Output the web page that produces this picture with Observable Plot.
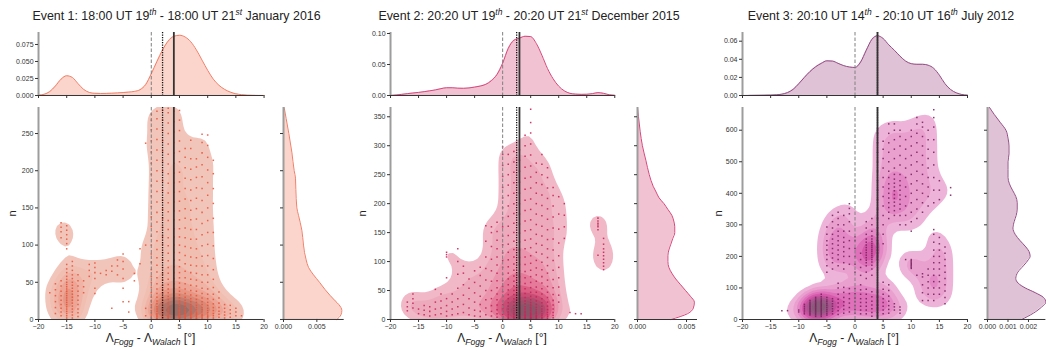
<!DOCTYPE html>
<html><head><meta charset="utf-8">
<script src="https://cdn.jsdelivr.net/npm/d3@7"></script>
<script src="https://cdn.jsdelivr.net/npm/@observablehq/plot@0.6"></script>
<style>
body{margin:0;background:#fff;font-family:"Liberation Sans",Arial,sans-serif;}
#fig{position:relative;width:1046px;height:351px;overflow:hidden;background:#fff;}
.pl{position:absolute;}
.pl svg{display:block;max-width:none !important;}
.title{position:absolute;font-size:12.4px;color:#222;white-space:nowrap;transform:translate(-50%,-50%);}
.title sup{font-size:8.5px;font-style:italic;vertical-align:5px;line-height:0;}
.xl{position:absolute;font-size:12px;color:#222;white-space:nowrap;transform:translate(-50%,-50%);}
.xl sub{font-size:8.6px;font-style:italic;vertical-align:-3px;line-height:0;}
</style></head><body><div id="fig"></div>
<script>
// ---------- shared tick values ----------
const xTicks = [-20,-15,-10,-5,0,5,10,15,20];
const gridX = [-20,-19,-18,-17,-16,-15,-14,-13,-12,-11,-10,-9,-8,-7,-6,-5,-4,-3,-2,-1,0,1,2,3,4,5,6,7,8,9,10,11,12,13,14,15,16,17,18,19,20];

// ---------- Event 1 : [Λ difference, list of n] ----------
const e1Points = [
 [-18,[36]],[-17,[8,16,24,32,40,48]],[-16,[5,10,15,20,26,32,38,45,52,110,118,124,130]],
 [-15,[2,5,8,11,14,17,20,23,26,29,32,35,38,41,44,47,50,54,58,63,68,74,95,102,108,114,120,126]],
 [-14,[2,6,10,14,18,22,26,30,34,38,42,46,50,55,60,66,72,78]],[-13,[4,9,14,20,26,32,38,45,52,60]],
 [-12,[36,44,52]],[-11,[58,66,74]],[-10,[35,42,55,63,70,76]],[-9,[62]],[-8,[60,66]],
 [-7,[15,65,72]],[-6,[60,72,80]],[-5,[24,42,55,68,78,88]],[-4,[10,24]],[-3,[52,62]],
 [-2,[75,95]],[-1,[5,15,100,237]],
 [0,[1,3,6,9,12,16,20,25,30,36,43,50,58,67,77,88,100,112,125,138,152,166,180,195,210,225,240,255,268,276]],
 [1,[1,2,4,6,8,11,14,17,21,25,30,35,41,48,56,64,73,83,94,106,118,131,144,158,172,186,200,214,228,242,256,270,280]],
 [2,[1,2,3,5,7,9,11,13,16,19,22,26,30,35,40,46,53,61,70,80,90,101,112,124,136,148,160,173,186,199,212,226,240,254,268,281]],
 [3,[1,2,3,4,6,8,10,12,14,17,20,23,27,31,36,41,47,54,62,70,79,89,99,110,121,133,145,157,170,183,196,209,222,236,250,264,278,284]],
 [4,[1,2,3,4,5,7,9,11,13,15,18,21,24,28,32,37,42,48,55,63,71,80,90,100,111,122,134,146,158,171,184,197,210,224,238,252,266,280]],
 [5,[1,2,3,4,5,6,8,10,12,14,16,19,22,25,29,33,38,43,49,56,63,71,80,90,100,111,122,134,146,159,172,185,198,212,226,240,254,268,281]],
 [6,[1,2,3,5,7,9,11,13,16,19,22,26,30,35,41,48,56,65,75,86,98,110,123,136,149,162,176,190,204,218,230]],
 [7,[1,2,3,5,7,9,11,14,17,20,24,28,33,39,46,54,63,73,84,96,108,121,134,147,160,174,188,202,216,230,241]],
 [8,[1,2,4,6,8,10,13,16,19,23,27,32,38,45,53,62,72,83,95,108,121,135,149,163,177,191,205,216]],
 [9,[1,3,5,7,10,13,16,20,24,29,35,42,50,60,72,85,99,114,129,144,160,176,192,208,224,238,249]],
 [10,[2,4,6,9,12,15,19,23,28,34,41,50,60,72,86,101,117,133,150,167,184,201,218,234,248]],
 [11,[2,5,8,12,16,21,27,34,43,54,67,82,99,117,136,156,176,196,214]],
 [12,[3,7,11,16,22,29,37]],[13,[2,6,10,15,20]],[14,[3,8,13,19]],[15,[5,10,15]],[16,[5]]
];
const e1Top = [0.0005,0.0018,0.0058,0.0140,0.0240,0.0290,0.0265,0.0175,0.0090,0.0045,0.0032,0.0030,0.0031,0.0034,0.0038,0.0043,0.0050,0.0060,0.0085,0.0160,0.0320,0.0500,0.0670,0.0800,0.0870,0.0885,0.0860,0.0790,0.0670,0.0520,0.0370,0.0240,0.0150,0.0090,0.0050,0.0025,0.0012,0.0005,0.0002,0.0001,0.0000];
const e1RightN = [0,6,12,20,25,40,50,60,70,80,90,100,120,140,150,175,190,200,225,250,270,285];
const e1RightD = [0.0080,0.0086,0.00875,0.0083,0.00775,0.00625,0.0054,0.0045,0.00375,0.0034,0.00315,0.0030,0.00275,0.00225,0.0020,0.00185,0.0018,0.0016,0.00125,0.0008,0.0004,0.0001];
const e1YTicks = [0,50,100,150,200,250];
const e1TopTicks = [0,0.025,0.05,0.075];
const e1RightTicks = [0,0.005];

// ---------- Event 2 ----------
const e2Points = [
 [-17,[15,22,30]],[-16,[20,28,36,44]],[-15,[10,18]],[-14,[8,16,24]],[-13,[6,14,22]],
 [-12,[8,18,30,52]],[-11,[10,20,32,44]],[-10,[6,14,24,36,72,108,112,116]],[-9,[8,18,30,44]],
 [-8,[10,22,36,54,78,100,122]],[-7,[12,26,42,60,80,92]],[-6,[8,20,36,54,70]],[-5,[6,16,30,46,64,84]],
 [-4,[5,14,26,40,58,76,90]],[-3,[8,20,34,50,68,88,108,135,162]],[-2,[6,14,24,36,50,66,84,104,126,150,160]],
 [-1,[4,10,17,25,34,44,55,67,80,94,108,122,137,152,168]],
 [0,[2,5,9,14,19,25,32,40,48,57,67,78,90,102,115,129,144,160,176,193,210,228,247,266,285,298]],
 [1,[1,3,6,9,13,18,23,29,36,43,51,60,70,80,91,103,116,130,145,161,178,196,214,232,250,268,285]],
 [2,[1,3,5,8,11,15,19,24,30,36,43,50,58,66,75,85,96,108,121,135,150,166,183,200,218,236,254,272,290]],
 [3,[1,2,4,6,9,12,16,20,25,30,36,42,49,57,65,74,84,95,107,120,134,149,165,182,200,218,237,256,275,293]],
 [4,[1,2,4,6,8,11,14,18,22,27,32,38,45,53,62,72,83,95,108,122,137,153,170,188,206,225,244,263,282,300,318]],
 [5,[1,2,3,4,6,8,10,12,15,18,21,25,29,34,40,47,55,64,74,85,97,110,124,139,155,172,190,208,227,246,265,284,303,322,340,363]],
 [6,[1,3,5,7,10,13,17,21,26,32,39,47,56,66,77,89,102,116,131,147,164,182,200,218,236,254,270]],
 [7,[2,4,7,10,14,18,23,29,36,44,53,63,74,86,99,113,128,144,161,179,197,215,233,250,268,285]],
 [8,[2,5,8,12,17,23,30,38,47,57,68,80,93,107,122,138,155,173,191,209,227,245,262]],
 [9,[3,7,12,18,25,33,43,55,69,85,102,120,139,158,177,196,214,228]],
 [10,[30,42,56,72,90,110,132,156,182,212]],[11,[140,160,180,200]],
 [12,[12]],[13,[10]],[14,[10]],[17,[111,155,160,163,166,170,175]],[18,[86,92,98,104,110,116,122,130,140]]
];
const e2Top = [0.0002,0.0008,0.0018,0.0030,0.0040,0.0050,0.0062,0.0075,0.0090,0.0110,0.0125,0.0125,0.0118,0.0116,0.0122,0.0135,0.0152,0.0180,0.0240,0.0340,0.0520,0.0760,0.0890,0.0925,0.0955,0.0950,0.0840,0.0650,0.0435,0.0270,0.0150,0.0075,0.0035,0.0022,0.0018,0.0020,0.0030,0.0046,0.0035,0.0012,0.0003];
const e2RightN = [0,10,20,30,40,50,60,70,80,90,100,110,120,130,140,150,160,170,180,190,200,210,220,230,250,275,300,325,350,366];
const e2RightD = [0.0034,0.0051,0.0057,0.0058,0.0054,0.0049,0.0044,0.0039,0.0035,0.0032,0.0031,0.0031,0.0032,0.0034,0.0036,0.0038,0.0038,0.0037,0.0035,0.0031,0.0027,0.0022,0.0019,0.0016,0.0012,0.00085,0.0005,0.00027,0.0001,0.0];
const e2YTicks = [0,50,100,150,200,250,300,350];
const e2TopTicks = [0,0.05,0.10];
const e2RightTicks = [0,0.005];

// ---------- Event 3 ----------
const e3Points = [
 [-13,[28]],[-12,[28]],[-10,[24,30]],[-9,[18,24,30,36,42,48]],
 [-8,[14,18,22,26,30,34,38,42,46,50,55,60]],
 [-7,[10,15,20,24,28,32,36,40,44,48,52,56,60,65,70]],
 [-6,[10,15,20,24,28,32,36,40,44,48,52,56,60,65,72,80]],
 [-5,[14,20,26,32,38,44,50,56,62,70,150,170,190,205,220,235,250,270,293]],
 [-4,[18,26,34,42,50,58,66,160,180,195,210,225,240,255,270,290,310,330]],
 [-3,[16,28,40,52,64,80,100,115,170,190,205,220,235,250,265,280,300,320,340]],
 [-2,[20,32,44,56,70,86,102,160,180,200,215,230,245,260,280,300,330]],
 [-1,[24,38,52,66,82,98,175,200,225,250,280,310,335,352,367]],
 [0,[20,32,44,56,68,82,98,150,175,200,225,250,262]],
 [1,[18,30,42,54,66,80,94,110,140,165,190,210]],
 [2,[18,30,42,54,66,80,96,130,150,170,180,188,196,204,212,220,228,236,245,255,270,290,310]],
 [3,[10,22,34,46,58,72,88,140,160,172,182,190,197,204,210,216,222,228,234,240,247,255,265,280,300,320]],
 [4,[10,22,34,46,58,72,88,190,200,210,220,230,240,250,270,290,320,350,380,410,440,470,500,530,560,590,605]],
 [5,[18,30,42,54,66,80,96,118,240,270,300,330,360,390,420,450,480,510,540,565]],
 [6,[20,32,44,58,74,92,110,320,340,355,370,385,400,415,430,450,470,500,530,560,590,620]],
 [7,[30,40,50,330,345,360,372,384,396,408,420,432,445,460,480,510,540,570,600,620]],
 [8,[20,30,40,300,330,350,365,380,395,410,425,440,460,490,520,550,580,600]],
 [9,[190,300,330,360,390,420,450,480,510,540,570]],
 [10,[162,166,170,174,178,182,186,190,280,310,340,370,400,430,460,490,520,550,580,600]],
 [11,[140,320,350,380,410,440,470,500,530,560,590,620,640]],
 [12,[60,85,110,135,145,340,370,400,430,460,490,520,550,580,610,625]],
 [13,[60,80,100,120,140,160,360,390,420,450,480,510,540,570,600]],
 [14,[60,80,100,120,140,160,180,200,220,245,270,285,370,410,450,490,530,570,610,640,665]],
 [15,[80,100,120,140,160,180,200,220,240,260,380,410,440]],
 [16,[50,70,90,110,130,150,170,190,210,230]],[17,[394,418]]
];
const e3Top = [0.0000,0.0001,0.0002,0.0003,0.0004,0.0005,0.0008,0.0015,0.0032,0.0068,0.0130,0.0200,0.0265,0.0317,0.0355,0.0383,0.0380,0.0355,0.0330,0.0315,0.0310,0.0370,0.0500,0.0620,0.0660,0.0630,0.0560,0.0500,0.0435,0.0380,0.0352,0.0345,0.0345,0.0335,0.0300,0.0225,0.0130,0.0066,0.0030,0.0011,0.0004];
const e3RightN = [0,20,40,55,70,85,100,115,130,150,170,190,200,215,230,250,270,290,310,330,350,370,390,410,430,450,475,500,525,550,575,600,625,650,672];
const e3RightD = [0.00167,0.00224,0.00265,0.00285,0.00273,0.00233,0.00184,0.0015,0.00138,0.00148,0.00175,0.0020,0.00208,0.00203,0.00187,0.00159,0.00135,0.00124,0.0013,0.0014,0.00145,0.00145,0.00138,0.00122,0.00107,0.0010,0.0010,0.0010,0.00105,0.00105,0.0010,0.0009,0.00062,0.00033,0.0001];
const e3YTicks = [0,100,200,300,400,500,600];
const e3TopTicks = [0,0.02,0.04,0.06];
const e3RightTicks = [0,0.001,0.002];

// ---------- layout ----------
const FT = 107.3, FB = 319.3, TT = 32.3, TB = 95.3;
const fig = document.getElementById("fig");
function put(el, left, top){ const d=document.createElement("div"); d.className="pl"; d.style.left=left+"px"; d.style.top=top+"px"; d.appendChild(el); fig.appendChild(d); }
function flat(cols){ const out=[]; for (const [x, ns] of cols) for (const n of ns) out.push({x, n}); return out; }
const baseStyle = {fontFamily:'"Liberation Sans", Arial, sans-serif', fontSize:"7px", color:"#333", background:"transparent", overflow:"visible", maxWidth:"none"};
const SPINE = "#9d9d9d";

function refRules(p){
  return [
    Plot.ruleX([0],{stroke:"#808080",strokeWidth:1,strokeDasharray:"3.5,2"}),
    Plot.ruleX([p.dotted],{stroke:"#111",strokeWidth:1.3,strokeDasharray:"1.2,1.3"}),
    Plot.ruleX([p.solid],{stroke:"#333",strokeWidth:1.8})
  ];
}

function mainPlot(p){
  const ml=40, mr=4, mt=4, mb=24;
  const fw=p.x1-p.x0, fh=FB-FT;
  const pts=flat(p.points);
  const svg=Plot.plot({
    width: fw+ml+mr, height: fh+mt+mb, marginLeft:ml, marginRight:mr, marginTop:mt, marginBottom:mb,
    style: baseStyle,
    x:{domain:[-20,20]}, y:{domain:[0,p.ymax]},
    color:{type:"linear", interpolate: d3.interpolateRgbBasis(p.kde)},
    marks:[
      Plot.density(pts,{x:"x",y:"n",bandwidth:p.bw,thresholds:p.th,fill:"density",clip:true}),
      Plot.dot(pts,{x:"x",y:"n",symbol:"square",r:0.85,fill:p.pt,fillOpacity:0.9,stroke:"none"}),
      ...refRules(p),
      Plot.ruleX([-20],{stroke:SPINE,strokeWidth:2}),
      Plot.ruleY([0],{stroke:"#333",strokeWidth:1}),
      Plot.axisX({ticks:xTicks,tickSize:3,tickPadding:2,label:null}),
      Plot.axisY({ticks:p.yTicks,tickSize:3,tickPadding:2,label:null}),
      Plot.text(["n"],{frameAnchor:"left",dx:-p.nOff,rotate:-90,textAnchor:"middle",fontSize:11,fill:"#222"})
    ]
  });
  put(svg, p.x0-ml, FT-mt);
}

function topPlot(p){
  const ml=40, mr=4, mt=2, mb=6;
  const fw=p.x1-p.x0, fh=TB-TT;
  const svg=Plot.plot({
    width: fw+ml+mr, height: fh+mt+mb, marginLeft:ml, marginRight:mr, marginTop:mt, marginBottom:mb,
    style: baseStyle,
    x:{domain:[-20,20]}, y:{domain:[0,p.tymax]},
    marks:[
      Plot.areaY(gridX,{x:gridX,y:p.top,fill:p.mfill,curve:"monotone-x"}),
      Plot.lineY(gridX,{x:gridX,y:p.top,stroke:p.mline,strokeWidth:1,curve:"monotone-x"}),
      ...refRules(p),
      Plot.ruleX([-20],{stroke:SPINE,strokeWidth:2}),
      Plot.ruleY([0],{stroke:"#333",strokeWidth:1}),
      Plot.axisX({ticks:xTicks,tickSize:3,tickFormat:()=>"",label:null}),
      Plot.axisY({ticks:p.topTicks,tickSize:3,tickPadding:2,tickFormat:d3.format(p.topFmt),label:null})
    ]
  });
  put(svg, p.x0-ml, TT-mt);
}

function rightPlot(p){
  const ml=6, mr=8, mt=4, mb=24;
  const fw=p.rx1-p.rx0, fh=FB-FT;
  const svg=Plot.plot({
    width: fw+ml+mr, height: fh+mt+mb, marginLeft:ml, marginRight:mr, marginTop:mt, marginBottom:mb,
    style: baseStyle,
    x:{domain:[0,p.rxmax]}, y:{domain:[0,p.ymax]},
    marks:[
      Plot.areaX(p.rightN,{y:p.rightN,x:p.rightD,fill:p.mfill,curve:"monotone-y"}),
      Plot.lineX(p.rightN,{y:p.rightN,x:p.rightD,stroke:p.mline,strokeWidth:1,curve:"monotone-y"}),
      Plot.ruleX([0],{stroke:SPINE,strokeWidth:2}),
      Plot.ruleY([0],{stroke:"#333",strokeWidth:1}),
      Plot.axisX({ticks:p.rightTicks,tickSize:3,tickPadding:2,tickFormat:d3.format(".3f"),label:null}),
      Plot.axisY({ticks:p.yTicks,tickSize:3,tickFormat:()=>"",label:null})
    ]
  });
  put(svg, p.rx0-ml, FT-mt);
}

const panels = [
 {points:e1Points, top:e1Top, rightN:e1RightN, rightD:e1RightD, yTicks:e1YTicks, topTicks:e1TopTicks, rightTicks:e1RightTicks,
  x0:37.7, x1:263.3, ymax:285, tymax:0.0926, topFmt:".3f", rx0:283.3, rx1:344, rxmax:0.0091,
  dotted:2, solid:4, nOff:26, bw:7, th:10,
  kde:["#f3cbc3","#f1c1b6","#eeae9f","#e98f7a","#c27a6c","#9c6d66"], pt:"#e9553b", mfill:"#fbd5cc", mline:"#f08068"},
 {points:e2Points, top:e2Top, rightN:e2RightN, rightD:e2RightD, yTicks:e2YTicks, topTicks:e2TopTicks, rightTicks:e2RightTicks,
  x0:390, x1:614.3, ymax:366, tymax:0.1016, topFmt:".2f", rx0:636.7, rx1:696.7, rxmax:0.00612,
  dotted:2.5, solid:3, nOff:28, bw:7, th:10,
  kde:["#f3c3d0","#efb0c1","#e98ba6","#db4a79","#a84d6b","#8c5468"], pt:"#c8245a", mfill:"#f1c3d2", mline:"#d6467a"},
 {points:e3Points, top:e3Top, rightN:e3RightN, rightD:e3RightD, yTicks:e3YTicks, topTicks:e3TopTicks, rightTicks:e3RightTicks,
  x0:741.7, x1:966.7, ymax:672, tymax:0.0696, topFmt:".2f", rx0:987.3, rx1:1045.7, rxmax:0.00285,
  dotted:4, solid:4, nOff:24, bw:7, th:10,
  kde:["#f1c3df","#eba6d2","#e27cc0","#d748a6","#a0588a","#8a5a7a"], pt:"#7a2460", mfill:"#dfc2d5", mline:"#934a84"}
];

for (const p of panels){ topPlot(p); mainPlot(p); rightPlot(p); }

// ---------- text ----------
const titles = [
 {cx:176.5, html:"Event 1: 18:00 UT 19<sup>th</sup> - 18:00 UT 21<sup>st</sup> January 2016"},
 {cx:529, html:"Event 2: 20:20 UT 19<sup>th</sup> - 20:20 UT 21<sup>st</sup> December 2015"},
 {cx:881, html:"Event 3: 20:10 UT 14<sup>th</sup> - 20:10 UT 16<sup>th</sup> July 2012"}
];
for (const t of titles){ const d=document.createElement("div"); d.className="title"; d.style.left=t.cx+"px"; d.style.top="16px"; d.innerHTML=t.html; fig.appendChild(d); }
const xlabelCenters = [150.5, 502, 854];
for (const cx of xlabelCenters){ const d=document.createElement("div"); d.className="xl"; d.style.left=cx+"px"; d.style.top="338px"; d.innerHTML="Λ<sub>Fogg</sub> - Λ<sub>Walach</sub> [°]"; fig.appendChild(d); }
</script>
</body></html>
